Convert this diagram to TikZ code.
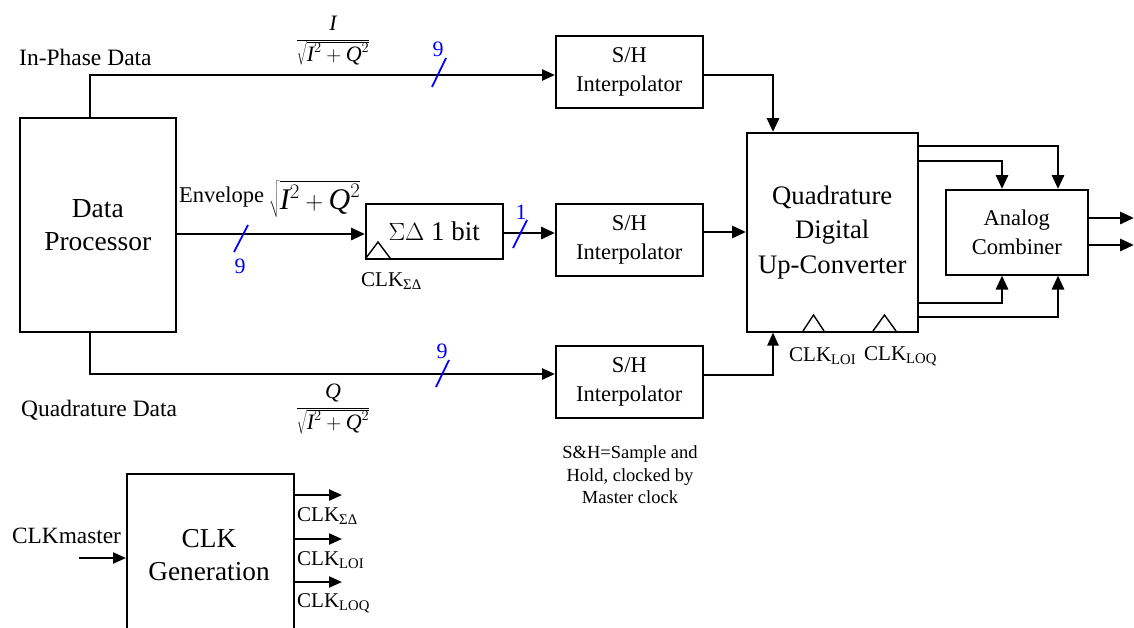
\documentclass[tikz,border=0pt]{standalone}
\usepackage{fontspec}
\setmainfont{Liberation Serif}
\usetikzlibrary{arrows.meta}
\newcommand\fsz[2]{\fontsize{#1}{#2}\selectfont}
\begin{document}
\begin{tikzpicture}[x=1pt,y=-1pt,
  box/.style={draw,line width=1.5pt,inner sep=0pt,align=center,anchor=north west},
  conn/.style={line width=2.9pt,-{Triangle[length=14pt,width=12pt]}},
  sconn/.style={line width=2.3pt,-{Triangle[length=13pt,width=11pt]}},
  wire/.style={line width=2.6pt},
  slash/.style={blue,line width=1.8pt},
  blab/.style={blue,font=\fsz{22}{24}},
  clk/.style={line width=1.4pt},
  lab/.style={inner sep=0pt,anchor=west}]
\useasboundingbox (0,0) rectangle (1134,627);

% blocks
\node[box,minimum width=156pt,minimum height=214pt,font=\fsz{27.5}{33}] (dp) at (19,117) {Data\\Processor};
\node[box,minimum width=147pt,minimum height=72pt,font=\fsz{22.5}{29}] (sh1) at (555,35) {S/H\\Interpolator};
\node[box,minimum width=147pt,minimum height=72pt,font=\fsz{22.5}{29}] (sh2) at (555,203) {S/H\\Interpolator};
\node[box,minimum width=147pt,minimum height=72pt,font=\fsz{22.5}{29}] (sh3) at (555,345) {S/H\\Interpolator};
\node[box,minimum width=137pt,minimum height=55pt,font=\fsz{27}{30}] (sd) at (365,203) {$\Sigma\Delta$ 1 bit};
\node[box,minimum width=171pt,minimum height=199pt,font=\fsz{26.7}{34.5}] (qduc) at (746,132) {Quadrature\\Digital\\Up-Converter};
\node[box,minimum width=142pt,minimum height=85pt,font=\fsz{22.5}{29}] (ac) at (945,189) {Analog\\Combiner};
\node[box,minimum width=167pt,minimum height=162pt] (cg) at (126,473) {};
\node[align=center,font=\fsz{27.3}{33}] (cgt) at (209,555) {CLK\\Generation};

% text labels
\node[lab,font=\fsz{23.5}{26}] (ipd) at (19,57) {In-Phase Data};
\node[lab,font=\fsz{23.5}{26}] (qd) at (21,410) {Quadrature Data};
\node[font=\fsz{22}{24}] (fi) at (333,41) {$\displaystyle\frac{\textit{I}}{\sqrt{\textit{I}^{2}+\textit{Q}^{2}}}$};
\node[font=\fsz{22}{24}] (fq) at (333,409) {$\displaystyle\frac{\textit{Q}}{\sqrt{\textit{I}^{2}+\textit{Q}^{2}}}$};
\node[lab,font=\fsz{22.5}{26}] (env) at (179,197) {Envelope};
\node[lab,font=\fsz{30}{33}] (envf) at (269,199) {$\sqrt{\textit{I}^{2}+\textit{Q}^{2}}$};
\node[align=center,font=\fsz{18.5}{22.5}] (note) at (630,475) {S\&H=Sample and\\Hold, clocked by\\Master clock};

% connectors
\coordinate (dpI) at (90,117);
\coordinate (dpQ) at (90,331);
\draw[wire,-{Triangle[length=13pt,width=11pt]}] (dpI) |- (sh1.west |- 0,75);
\draw[wire,-{Triangle[length=13pt,width=11pt]}] (dpQ) |- (sh3.west |- 0,374);
\draw[conn] (dp.east |- 0,234) -- (sd.west |- 0,234);
\draw[conn] (sd.east |- 0,233) -- (sh2.west |- 0,233);
\draw[conn] (sh2.east |- 0,232) -- (qduc.west |- 0,232);
\draw[conn] (sh1.east |- 0,75) -| (qduc.north -| 773,0);
\draw[sconn] (sh3.east |- 0,375) -| (qduc.south -| 773,0);

\draw[conn] (qduc.east |- 0,146) -| (ac.north -| 1058,0);
\draw[conn] (qduc.east |- 0,161) -| (ac.north -| 1002,0);
\draw[conn] (qduc.east |- 0,303) -| (ac.south -| 1002,0);
\draw[conn] (qduc.east |- 0,317) -| (ac.south -| 1058,0);
\coordinate (out1) at (1134,218);
\coordinate (out2) at (1134,245);
\draw[conn] (ac.east |- out1) -- (out1);
\draw[conn] (ac.east |- out2) -- (out2);

% bus width marks
\draw[slash] (432,87) -- (446,58);
\node[blab] (n1) at (438,49) {9};
\draw[slash] (234,252) -- (248,225);
\node[blab] (n2) at (240,266) {9};
\draw[slash] (513,248) -- (527,220);
\node[blab] (n3) at (521,212) {1};
\draw[slash] (436,387) -- (449,360);
\node[blab] (n4) at (442,351) {9};

% clock inputs
\draw[clk] (366,258) -- (378,242) -- (390,258);
\node[lab,font=\fsz{21}{24}] (csd) at (361,281) {CLK\textsubscript{ΣΔ}};
\draw[clk] (803,331) -- (813.5,315) -- (824,331);
\draw[clk] (873,331) -- (884.5,315) -- (896,331);
\node[lab,font=\fsz{21}{24}] (cloi) at (789,356) {CLK\textsubscript{LOI}};
\node[lab,font=\fsz{21}{24}] (cloq) at (864,356) {CLK\textsubscript{LOQ}};

% clock generation
\coordinate (g1) at (342,495);
\coordinate (g2) at (342,539);
\coordinate (g3) at (342,582);
\draw[sconn] (cg.east |- g1) -- (g1);
\draw[sconn] (cg.east |- g2) -- (g2);
\draw[sconn] (cg.east |- g3) -- (g3);
\node[lab,font=\fsz{21}{24}] (l1) at (297,516) {CLK\textsubscript{ΣΔ}};
\node[lab,font=\fsz{21}{24}] (l2) at (297,560) {CLK\textsubscript{LOI}};
\node[lab,font=\fsz{21}{24}] (l3) at (297,603) {CLK\textsubscript{LOQ}};
\node[lab,font=\fsz{23.3}{24}] (cm) at (12,536) {CLKmaster};
\coordinate (cmin) at (79,558);
\draw[sconn] (cmin) -- (cg.west |- cmin);
\end{tikzpicture}
\end{document}
